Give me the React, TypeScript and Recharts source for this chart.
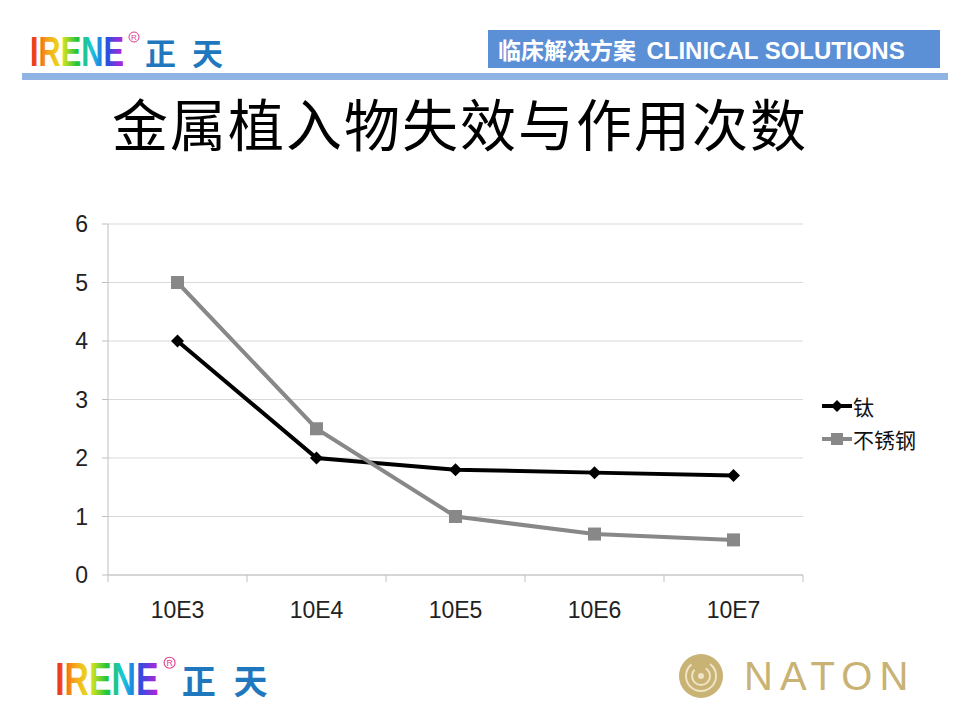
import React from 'react';
import { LineChart, Line, XAxis, YAxis, CartesianGrid } from 'recharts';

// chart data
const cycles = ['10E3', '10E4', '10E5', '10E6', '10E7'];
const titanium = [4, 2, 1.8, 1.75, 1.7];
const stainless = [5, 2.5, 1, 0.7, 0.6];
const yTicks = [0, 1, 2, 3, 4, 5, 6];
const seriesNames = ['钛', '不锈钢'];
const seriesColors = ['#000000', '#888888'];

const data = cycles.map((c, i) => ({ cycle: c, ti: titanium[i], ss: stainless[i] }));

// plot box
const PLOT_LEFT = 108;
const PLOT_RIGHT = 803;
const PLOT_TOP = 224;
const PLOT_BOTTOM = 575;
const BAND = (PLOT_RIGHT - PLOT_LEFT) / cycles.length;
const Y_AXIS_W = 60;
const X_AXIS_H = 40;

const LATIN = '"Liberation Sans", Arial, sans-serif';
const CJK = '"Noto Sans CJK SC", "Noto Sans", sans-serif';

const Diamond = (props: any) => {
  const { cx, cy, fill } = props;
  if (cx == null || cy == null) return null;
  const r = 6.5;
  return <path key={`d-${cx}`} d={`M${cx},${cy - r}L${cx + r},${cy}L${cx},${cy + r}L${cx - r},${cy}Z`} fill={fill} />;
};

const Square = (props: any) => {
  const { cx, cy, fill } = props;
  if (cx == null || cy == null) return null;
  const s = 13;
  return <rect key={`s-${cx}`} x={cx - s / 2} y={cy - s / 2} width={s} height={s} fill={fill} />;
};

const XTick = (props: any) => {
  const { x, payload, index } = props;
  const last = index === cycles.length - 1;
  return (
    <g>
      <line x1={x - BAND / 2} x2={x - BAND / 2} y1={PLOT_BOTTOM} y2={PLOT_BOTTOM + 7} stroke="#bfbfbf" />
      {last && <line x1={x + BAND / 2} x2={x + BAND / 2} y1={PLOT_BOTTOM} y2={PLOT_BOTTOM + 7} stroke="#bfbfbf" />}
      <text x={x} y={618} textAnchor="middle" fontSize={23} fill="#222" fontFamily={LATIN}>
        {payload.value}
      </text>
    </g>
  );
};

const IreneLogo = ({ x, y, scale, id }: { x: number; y: number; scale: number; id: string }) => (
  <svg
    style={{ position: 'absolute', left: x, top: y, overflow: 'visible' }}
    width={210 * scale}
    height={40 * scale}
    viewBox="0 0 210 40"
  >
    <defs>
      <linearGradient id={id} x1="0" y1="0" x2="1" y2="0">
        <stop offset="0%" stopColor="#e8201a" />
        <stop offset="18%" stopColor="#f7a21b" />
        <stop offset="34%" stopColor="#e5e51f" />
        <stop offset="50%" stopColor="#22c43a" />
        <stop offset="66%" stopColor="#19c6e0" />
        <stop offset="82%" stopColor="#2a4fe0" />
        <stop offset="100%" stopColor="#c21fd8" />
      </linearGradient>
    </defs>
    <text x={2} y={36} fontSize={42} fontWeight="bold" fontFamily={LATIN} textLength={94} lengthAdjust="spacingAndGlyphs" fill={`url(#${id})`}>
      IRENE
    </text>
    <circle cx={106} cy={7} r={5} fill="none" stroke="#e03a8a" strokeWidth={1} />
    <text x={106} y={10} fontSize={8} textAnchor="middle" fill="#e03a8a" fontFamily={LATIN}>R</text>
    <text x={117} y={35} fontSize={31} fontWeight="bold" fontFamily={CJK} fill="#1f78bd">正</text>
    <text x={164} y={35} fontSize={31} fontWeight="bold" fontFamily={CJK} fill="#1f78bd">天</text>
  </svg>
);

export default function App() {
  return (
    <div style={{ position: 'absolute', left: 0, top: 0, width: 960, height: 720, background: '#fff', overflow: 'hidden' }}>
      <LineChart
        width={960}
        height={720}
        data={data}
        margin={{ top: PLOT_TOP, right: 960 - PLOT_RIGHT, left: PLOT_LEFT - Y_AXIS_W, bottom: 720 - PLOT_BOTTOM - X_AXIS_H }}
      >
        <CartesianGrid vertical={false} stroke="#d9d9d9" strokeWidth={1} />
        <XAxis
          dataKey="cycle"
          height={X_AXIS_H}
          stroke="#bfbfbf"
          tickLine={false}
          tick={<XTick />}
          interval={0}
          padding={{ left: BAND / 2, right: BAND / 2 }}
        />
        <YAxis
          width={Y_AXIS_W}
          domain={[0, 6]}
          ticks={yTicks}
          stroke="#bfbfbf"
          tickSize={6}
          tickMargin={14}
          tick={{ fontSize: 23, fill: '#222', fontFamily: LATIN }}
        />
        <Line
          isAnimationActive={false}
          dataKey="ti"
          name={seriesNames[0]}
          stroke={seriesColors[0]}
          strokeWidth={4}
          dot={<Diamond fill={seriesColors[0]} />}
          activeDot={false}
        />
        <Line
          isAnimationActive={false}
          dataKey="ss"
          name={seriesNames[1]}
          stroke={seriesColors[1]}
          strokeWidth={4}
          dot={<Square fill={seriesColors[1]} />}
          activeDot={false}
        />
      </LineChart>

      {/* legend */}
      <div style={{ position: 'absolute', left: 822, top: 389 }}>
        {seriesNames.map((name, i) => (
          <div key={name} style={{ display: 'flex', alignItems: 'center', height: 33 }}>
            <svg width={30} height={16} style={{ marginRight: 1 }}>
              <line x1={0} x2={30} y1={8} y2={8} stroke={seriesColors[i]} strokeWidth={4} />
              {i === 0 ? (
                <path d="M15,2L21,8L15,14L9,8Z" fill={seriesColors[i]} />
              ) : (
                <rect x={9} y={2} width={12} height={12} fill={seriesColors[i]} />
              )}
            </svg>
            <span style={{ fontSize: 21, color: '#111', fontFamily: CJK }}>{name}</span>
          </div>
        ))}
      </div>

      {/* header */}
      <IreneLogo x={28} y={30} scale={1} id="rb-top" />
      <div style={{ position: 'absolute', left: 488, top: 30, width: 452, height: 38, background: '#5b8fd6', color: '#fff', fontFamily: CJK, fontWeight: 'bold', fontSize: 23, lineHeight: '38px', paddingLeft: 10, boxSizing: 'border-box', whiteSpace: 'nowrap' }}>
        临床解决方案&nbsp;&nbsp;<span style={{ fontFamily: LATIN, fontSize: 24 }}>CLINICAL SOLUTIONS</span>
      </div>
      <div style={{ position: 'absolute', left: 22, top: 73, width: 926, height: 7, background: '#8fb4e3' }} />

      {/* title */}
      <div style={{ position: 'absolute', left: 100, top: 84, width: 720, textAlign: 'center', fontFamily: CJK, fontSize: 56, lineHeight: '76px', color: '#000', letterSpacing: 2 }}>
        金属植入物失效与作用次数
      </div>

      {/* footer */}
      <IreneLogo x={53} y={655} scale={1.1} id="rb-bottom" />
      <svg style={{ position: 'absolute', left: 676, top: 652 }} width={240} height={50}>
        <circle cx={25} cy={24} r={22} fill="#c8b274" />
        <circle cx={25} cy={24} r={15} fill="none" stroke="#efe4c4" strokeWidth={2} strokeDasharray="60 20" />
        <circle cx={25} cy={24} r={9} fill="none" stroke="#efe4c4" strokeWidth={2} strokeDasharray="35 12" />
        <circle cx={25} cy={24} r={3} fill="#efe4c4" />
        <text x={68} y={38} fontSize={40} fill="#c8b274" fontFamily={LATIN} letterSpacing={7}>NATON</text>
      </svg>
    </div>
  );
}
